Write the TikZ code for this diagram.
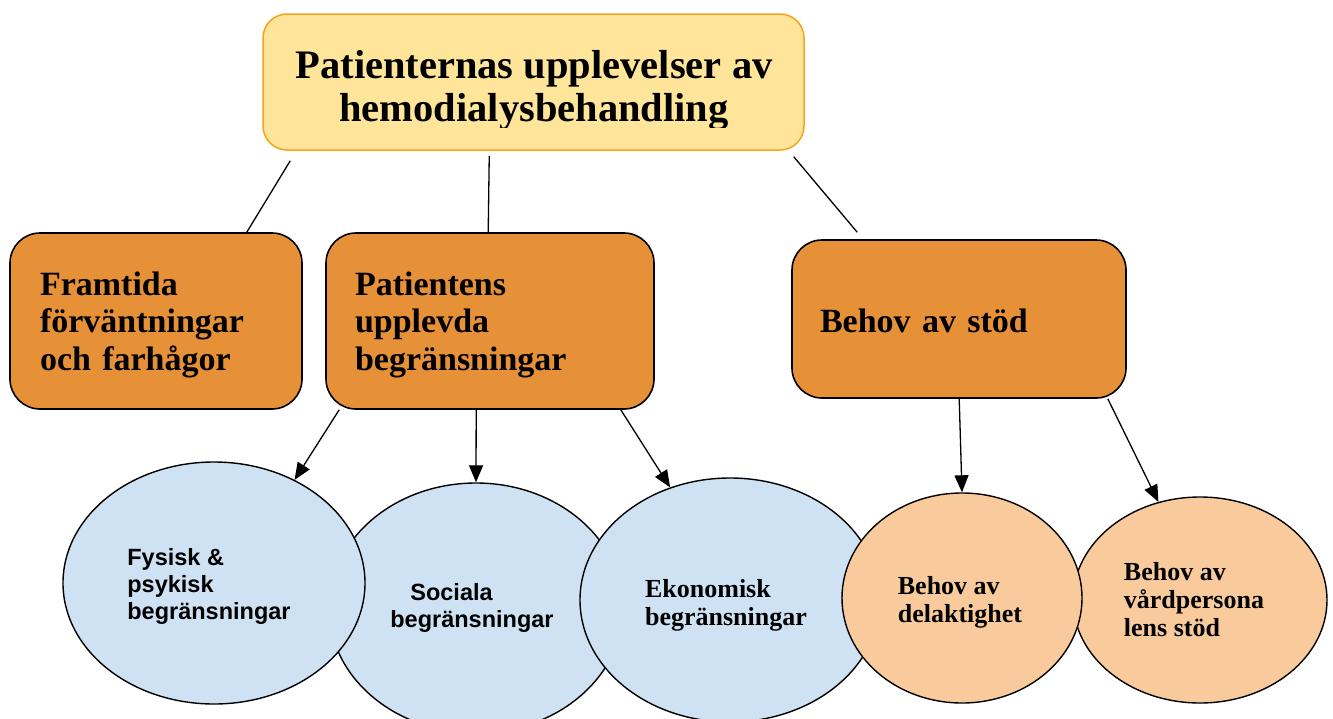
\documentclass[tikz,border=0pt]{standalone}
\usepackage{fontspec}
\setmainfont{Liberation Serif}
\newfontfamily\sansfnt{Liberation Sans}
\usetikzlibrary{arrows.meta,shapes.geometric}
\definecolor{titlefill}{HTML}{FFE599}
\definecolor{titledraw}{HTML}{F6A31B}
\definecolor{boxfill}{HTML}{E69138}
\definecolor{bluefill}{HTML}{CFE2F3}
\definecolor{peachfill}{HTML}{F9CB9C}
\begin{document}
\begin{tikzpicture}[x=1pt,y=-1pt,
 titlebox/.style={draw=titledraw,fill=titlefill,line width=1.5pt,rounded corners=24pt,minimum width=541pt,minimum height=136pt,inner sep=0pt},
 titletext/.style={font=\fontsize{40.5}{43}\selectfont\bfseries,anchor=base,inner sep=0pt},
 catbox/.style={draw=black,fill=boxfill,line width=1.6pt,rounded corners=30pt,inner ysep=0pt,align=left,font=\fontsize{34}{37.5}\selectfont\bfseries},
 blueell/.style={ellipse,draw=black,fill=bluefill,line width=1.4pt,inner sep=0pt,align=left},
 peachell/.style={ellipse,draw=black,fill=peachfill,line width=1.4pt,inner sep=0pt,align=left},
 sanstext/.style={font=\sansfnt\fontsize{23.5}{27}\selectfont\bfseries},
 seriftext/.style={font=\fontsize{26}{28}\selectfont\bfseries},
 link/.style={line width=1.3pt},
 arr/.style={line width=1.3pt,-{Triangle[length=17pt,width=14pt]}}]
\useasboundingbox (0,0) rectangle (1333,718);
\clip (0,0) rectangle (1333,718);
\fill[white] (0,0) rectangle (1333,718);
% title
\node[titlebox] (title) at (533.5,82) {};
\begin{scope}
\clip (263,14) rectangle (804,127);
\node[titletext] (t1) at (534,78.5) {Patienternas upplevelser av};
\node[titletext] (t2) at (534,121.5) {hemodialysbehandling};
\end{scope}
% category boxes
\node[catbox,inner xsep=30pt,text width=232pt,minimum height=176pt] (fram) at (156,321) {\rule{0pt}{31pt}Framtida\\förväntningar\\och farhågor};
\node[catbox,inner xsep=29pt,text width=270pt,minimum height=176pt] (pat) at (490,321) {\rule{0pt}{31pt}Patientens\\upplevda\\begränsningar};
\node[catbox,inner xsep=28pt,text width=278pt,minimum height=158pt] (beh) at (959,319) {\rule{0pt}{27pt}Behov av stöd};
% ellipses
\node[blueell,sanstext,minimum width=294pt,minimum height=250pt] (soc) at (476,608) {\hspace*{20pt}Sociala\\begränsningar\hspace*{8pt}};
\node[blueell,sanstext,minimum width=302pt,minimum height=242pt] (fys) at (214,583) {\rule{0pt}{23pt}Fysisk \&\\psykisk\\begränsningar\hspace*{10pt}};
\node[blueell,seriftext,minimum width=300pt,minimum height=244pt] (eko) at (730,600) {\rule{0pt}{28pt}Ekonomisk\\begränsningar\hspace*{8pt}};
\node[peachell,seriftext,minimum width=254pt,minimum height=206pt] (vard) at (1200,600) {Behov av\\vårdpersona\rule{12pt}{0pt}\\lens stöd};
\node[peachell,seriftext,minimum width=240pt,minimum height=210pt] (dela) at (962,598) {\rule{0pt}{26pt}Behov av\\delaktighet\hspace*{4pt}};
% connectors
\draw[link] ([xshift=28pt,yshift=-10pt]title.south west) -- ([xshift=-56pt]fram.north east);
\draw[link] ([xshift=227pt,yshift=-5pt]title.south west) -- ([xshift=163pt]pat.north west);
\draw[link] ([xshift=-11pt,yshift=-6pt]title.south east) -- ([xshift=66pt,yshift=7pt]beh.north west);
\draw[arr] ([xshift=14pt]pat.south west) -- (fys.52);
\draw[arr] ([xshift=151pt]pat.south west) -- (soc.north);
\draw[arr] ([xshift=-34pt]pat.south east) -- (eko.118);
\draw[arr] ([xshift=168pt]beh.south west) -- (dela.north);
\draw[arr] ([xshift=-19pt]beh.south east) -- (vard.113);
\end{tikzpicture}
\end{document}
